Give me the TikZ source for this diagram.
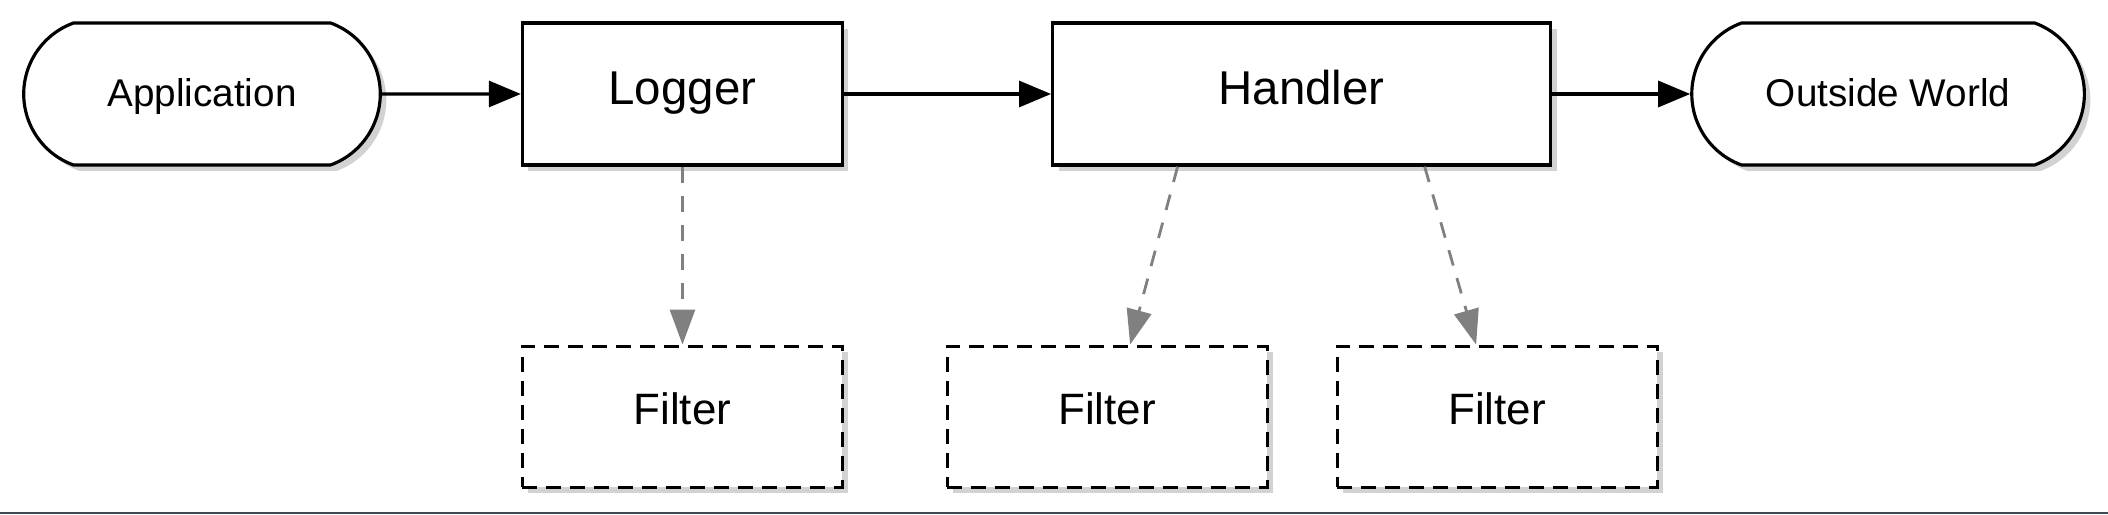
\documentclass[tikz,border=0pt]{standalone}
\usepackage{fontspec}
\setmainfont{Liberation Sans}
\usetikzlibrary{positioning,shapes.misc,shadows,arrows.meta}

\definecolor{barre}{HTML}{3F4A55}

\tikzstyle{arrow} = [line width=0.9pt,-{Triangle[length=0.32cm,width=0.26cm]}]
\tikzstyle{lien} = [
        draw=gray,
        line width=0.8pt,
        dash pattern=on 0.16cm off 0.13cm,
        -{Triangle[length=0.35cm,width=0.25cm,fill=gray]}
    ]
\tikzstyle{ombre} = [drop shadow={shadow xshift=0.06cm, shadow yshift=-0.06cm, fill=black!35}]
\tikzstyle{terminal} = [
        rounded rectangle,
        rounded rectangle arc length=140,
        minimum height=1.42cm,
        text height=0.73em,
        text depth=0pt,
        draw=black,
        line width=0.9pt,
        fill=white,
        ombre,
        font=\fontsize{11}{13}\selectfont
    ]
\tikzstyle{module} = [
        rectangle,
        minimum height=1.42cm,
        text height=0.75em,
        text depth=0.15em,
        draw=black,
        line width=0.9pt,
        fill=white,
        ombre,
        font=\fontsize{13.5}{16}\selectfont
    ]
\tikzstyle{filtre} = [
        rectangle,
        minimum width=3.2cm,
        minimum height=1.41cm,
        text height=0.75em,
        text depth=0.29em,
        draw=black,
        line width=0.9pt,
        dash pattern=on 0.15cm off 0.09cm,
        fill=white,
        ombre,
        font=\fontsize{12.5}{15}\selectfont
    ]

\begin{document}
\begin{tikzpicture}[node distance=1.39cm]
        \useasboundingbox (0,0) rectangle (21.08,5.14);
        \fill [barre] (0,0) rectangle (21.08,0.02);
        \node [terminal, minimum width=3.80cm] (app) at (2.02,4.20) {Application};
        \node [module, minimum width=3.2cm, right=of app] (logger) {Logger};
        \node [module, minimum width=4.98cm, right=2.07cm of logger] (handler) {Handler};
        \node [terminal, minimum width=4.16cm, right=1.38cm of handler] (world) {Outside World};
        \node [filtre, below=1.78cm of logger] (filter1) {Filter};
        \node [filtre, below=1.78cm of handler, xshift=-1.945cm] (filter2) {Filter};
        \node [filtre, below=1.78cm of handler, xshift=1.955cm] (filter3) {Filter};
        \draw [arrow] (app) -- (logger);
        \draw [arrow] (logger) -- (handler);
        \draw [arrow] (handler) -- (world);
        \draw [lien] (logger) -- (filter1);
        \draw [lien] ([xshift=-1.24cm]handler.south) -- ([xshift=0.23cm]filter2.north);
        \draw [lien] ([xshift=1.23cm]handler.south) -- ([xshift=-0.21cm]filter3.north);
    \end{tikzpicture}
\end{document}
